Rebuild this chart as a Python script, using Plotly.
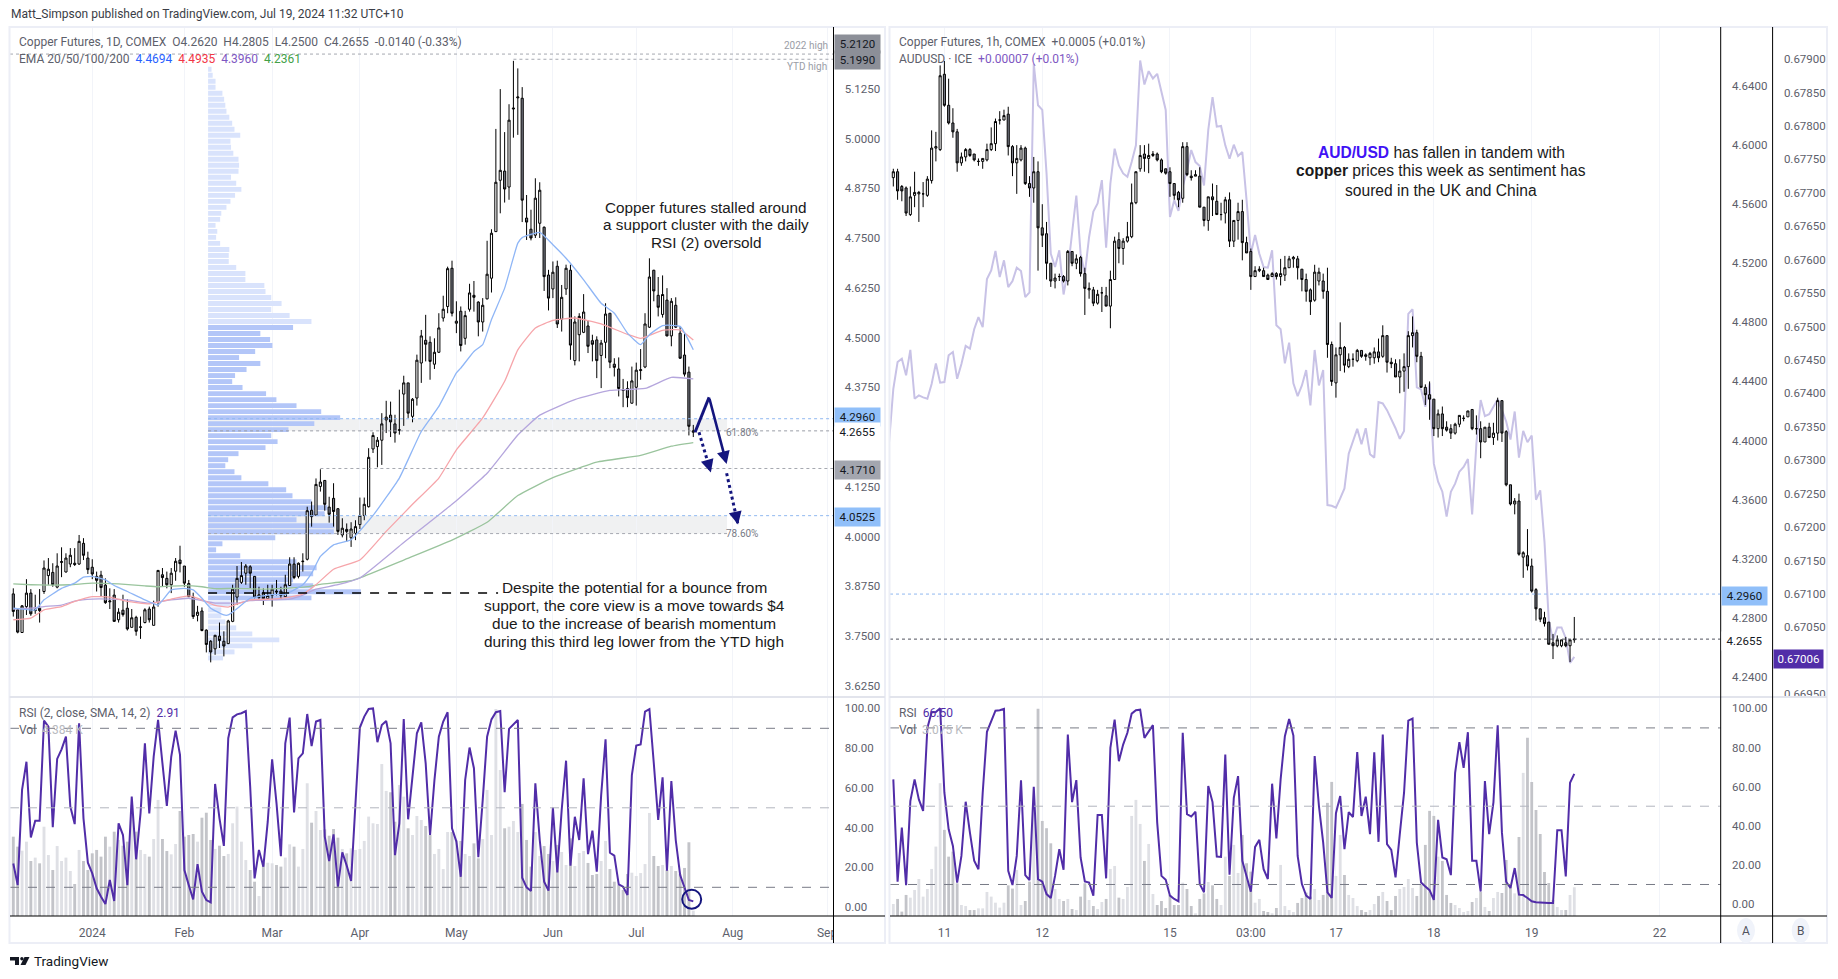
import numpy as np
import plotly.graph_objects as go

W, H = 1838, 979

# Daily copper futures, Dec 2023 - Jul 2024
d_open = [3.856,3.816,3.759,3.824,3.858,3.814,3.820,3.862,3.902,3.910,
    3.873,3.935,3.911,3.931,3.933,3.931,3.983,3.946,3.923,3.900,
    3.903,3.878,3.836,3.853,3.791,3.815,3.820,3.772,3.797,3.772,
    3.784,3.818,3.777,3.835,3.904,3.895,3.879,3.913,3.941,3.926,
    3.882,3.848,3.802,3.813,3.765,3.737,3.718,3.750,3.737,3.731,
    3.787,3.848,3.885,3.908,3.924,3.900,3.847,3.859,3.844,3.852,
    3.863,3.863,3.849,3.877,3.931,3.900,3.937,3.943,4.066,4.054,
    4.126,4.141,4.074,4.096,4.070,4.004,4.018,3.997,4.008,4.030,
    4.053,4.075,4.220,4.226,4.242,4.293,4.305,4.283,4.267,4.358,
    4.386,4.302,4.348,4.436,4.493,4.488,4.433,4.463,4.549,4.578,
    4.674,4.536,4.566,4.498,4.571,4.606,4.589,4.539,4.597,4.649,
    4.766,4.895,4.918,4.878,5.074,5.102,5.101,4.800,4.772,4.757,
    4.787,4.777,4.657,4.622,4.679,4.546,4.622,4.669,4.442,4.507,
    4.513,4.529,4.492,4.494,4.455,4.488,4.561,4.433,4.421,4.369,
    4.372,4.335,4.375,4.417,4.426,4.526,4.669,4.606,4.558,4.594,
    4.504,4.581,4.511,4.456,4.413,4.2620]
d_high = [3.870,3.820,3.828,3.893,3.868,3.854,3.868,3.940,3.946,3.933,
    3.958,3.973,3.958,3.971,3.971,4.004,3.996,3.962,3.943,3.912,
    3.914,3.895,3.870,3.868,3.820,3.854,3.843,3.818,3.801,3.799,
    3.820,3.824,3.839,3.916,3.921,3.912,3.921,3.946,3.977,3.926,
    3.891,3.859,3.826,3.822,3.767,3.740,3.753,3.784,3.762,3.791,
    3.879,3.926,3.936,3.931,3.928,3.901,3.874,3.870,3.879,3.879,
    3.891,3.874,3.904,3.948,3.948,3.935,3.958,4.075,4.088,4.146,
    4.169,4.142,4.100,4.134,4.071,4.046,4.033,4.036,4.041,4.098,
    4.098,4.222,4.262,4.250,4.310,4.341,4.339,4.306,4.369,4.404,
    4.386,4.348,4.457,4.519,4.557,4.503,4.498,4.561,4.605,4.678,
    4.693,4.591,4.578,4.567,4.635,4.642,4.591,4.599,4.743,4.772,
    5.024,5.124,5.016,5.086,5.195,5.176,5.129,4.858,4.821,4.900,
    4.890,4.779,4.670,4.691,4.693,4.632,4.683,4.683,4.553,4.561,
    4.609,4.543,4.507,4.503,4.494,4.586,4.561,4.448,4.450,4.396,
    4.390,4.427,4.437,4.471,4.561,4.699,4.670,4.652,4.656,4.624,
    4.599,4.601,4.528,4.511,4.427,4.2805]
d_low = [3.799,3.757,3.759,3.803,3.801,3.806,3.784,3.856,3.879,3.874,
    3.870,3.898,3.910,3.923,3.926,3.929,3.941,3.906,3.893,3.862,
    3.849,3.831,3.818,3.786,3.784,3.799,3.764,3.772,3.751,3.743,
    3.782,3.784,3.777,3.824,3.874,3.870,3.858,3.889,3.910,3.874,
    3.848,3.793,3.787,3.762,3.709,3.684,3.703,3.720,3.699,3.730,
    3.785,3.828,3.881,3.879,3.870,3.845,3.843,3.828,3.841,3.824,
    3.852,3.843,3.848,3.877,3.893,3.895,3.912,3.940,4.025,4.054,
    4.113,4.065,4.035,4.025,4.004,3.998,3.987,3.974,3.991,4.019,
    4.041,4.073,4.210,4.174,4.180,4.260,4.250,4.236,4.256,4.278,
    4.298,4.287,4.329,4.386,4.440,4.394,4.421,4.461,4.540,4.561,
    4.553,4.511,4.465,4.482,4.565,4.565,4.503,4.515,4.596,4.613,
    4.765,4.812,4.839,4.846,5.002,5.009,4.790,4.745,4.744,4.750,
    4.750,4.617,4.568,4.599,4.524,4.515,4.607,4.444,4.430,4.440,
    4.511,4.461,4.440,4.398,4.373,4.448,4.423,4.402,4.352,4.325,
    4.325,4.334,4.329,4.394,4.423,4.524,4.591,4.553,4.550,4.503,
    4.478,4.524,4.446,4.402,4.254,4.2500]
d_close = [3.812,3.760,3.826,3.858,3.806,3.816,3.814,3.921,3.918,3.879,
    3.926,3.937,3.946,3.953,3.930,3.988,3.953,3.917,3.906,3.890,
    3.872,3.834,3.838,3.787,3.810,3.804,3.768,3.796,3.762,3.773,
    3.816,3.791,3.823,3.915,3.897,3.879,3.908,3.938,3.932,3.883,
    3.849,3.799,3.810,3.764,3.729,3.710,3.752,3.739,3.725,3.788,
    3.868,3.895,3.902,3.926,3.908,3.848,3.854,3.844,3.852,3.868,
    3.861,3.852,3.879,3.931,3.897,3.933,3.938,4.065,4.050,4.131,
    4.137,4.081,4.056,4.063,4.013,4.021,4.013,4.019,4.025,4.053,
    4.081,4.199,4.254,4.242,4.283,4.300,4.288,4.260,4.268,4.386,
    4.310,4.345,4.443,4.504,4.483,4.440,4.463,4.524,4.571,4.673,
    4.561,4.541,4.480,4.555,4.612,4.601,4.539,4.581,4.659,4.762,
    4.890,4.920,4.873,5.046,5.076,5.104,4.845,4.790,4.750,4.850,
    4.870,4.653,4.599,4.664,4.534,4.601,4.674,4.481,4.539,4.553,
    4.564,4.478,4.483,4.442,4.486,4.559,4.438,4.425,4.372,4.367,
    4.349,4.391,4.418,4.419,4.534,4.652,4.617,4.576,4.608,4.504,
    4.591,4.526,4.448,4.408,4.277,4.2655]

d_rsi = [22.0,11.1,59.0,73.2,35.1,43.5,43.5,93.9,90.8,40.2,
    74.6,79.4,85.8,50.6,41.8,92.5,44.7,22.4,17.0,9.5,
    5.3,1.6,13.7,3.1,42.2,36.3,11.1,55.6,24.1,47.2,
    82.4,47.2,75.7,94.2,72.4,50.9,75.7,88.8,76.6,18.7,
    11.1,3.9,21.7,7.8,3.6,2.4,62.0,44.7,30.8,85.0,
    95.5,97.0,97.6,98.7,60.6,14.5,28.8,20.4,43.0,74.4,
    52.2,25.7,82.4,95.4,47.7,74.9,77.4,97.2,81.1,93.4,
    94.2,35.5,23.2,36.6,10.3,27.6,20.9,13.2,52.2,90.4,
    95.9,99.7,100.0,83.0,91.7,93.7,82.4,26.2,42.2,94.7,
    44.2,65.7,87.5,93.0,72.4,36.3,64.0,85.8,93.4,98.1,
    39.7,33.0,15.3,64.0,80.3,69.9,25.1,53.9,85.8,94.5,
    98.1,98.7,57.8,89.7,92.2,94.2,14.8,10.0,8.1,62.3,
    33.8,12.8,8.3,50.1,17.5,48.9,73.7,20.9,45.5,33.8,
    64.8,26.7,38.5,17.9,56.4,84.5,27.4,25.9,11.5,10.3,
    6.1,66.5,81.3,81.9,98.4,99.6,72.4,43.9,65.3,18.4,
    63.5,33.8,16.2,9.5,3.6,2.91]
d_vol_k = [65.2,57.0,53.7,61.1,45.2,48.0,43.3,73.4,50.1,37.8,
    57.5,45.2,48.0,37.0,26.3,54.3,45.2,37.8,51.5,54.3,
    48.8,65.2,57.0,69.3,62.5,57.8,61.1,91.2,69.3,54.3,
    51.0,48.8,63.3,95.4,63.3,53.4,50.7,59.2,86.3,65.2,
    66.6,67.4,61.1,80.8,84.9,62.5,55.1,57.8,49.3,51.0,
    76.2,89.9,61.1,46.0,37.8,28.2,16.4,44.1,43.8,43.3,
    41.9,40.6,48.0,58.9,57.0,40.6,55.1,109.1,76.7,86.3,
    70.7,71.2,66.0,71.5,64.4,55.1,51.5,55.6,54.3,55.1,
    61.7,81.7,76.2,75.6,124.9,102.8,101.7,77.5,107.7,98.1,
    72.1,66.6,82.2,78.9,74.0,66.6,51.0,55.1,38.6,69.0,
    69.0,62.5,61.7,51.0,49.3,59.7,47.4,63.3,103.6,66.6,
    170.2,120.0,72.1,73.4,78.1,69.0,92.1,62.5,40.6,69.0,
    49.3,57.5,51.0,45.2,58.4,52.6,41.9,63.8,41.1,51.8,
    53.4,43.6,33.7,34.5,45.2,61.7,38.6,28.2,25.5,21.4,
    34.5,35.6,32.9,35.3,42.7,84.7,49.3,41.1,41.9,37.8,
    41.1,37.0,34.5,39.5,60.6,4.384]

ema20_i = [0,5,7,11,14,16,18,21,23,26,30,33,36,39,41,43,45,48,49,52,54,59,62,66,68,70,73,77,82,88,93,97,101,102,105,107,109,112,115,116,120,123,126,130,134,137,140,143,145,148,152,155]
ema20_v = [3.820,3.816,3.841,3.870,3.883,3.898,3.900,3.891,3.877,3.862,3.841,3.828,3.866,3.870,3.866,3.845,3.820,3.803,3.803,3.828,3.845,3.854,3.855,3.879,3.908,3.950,3.979,3.992,4.053,4.147,4.264,4.327,4.411,4.423,4.465,4.482,4.545,4.624,4.737,4.751,4.764,4.733,4.699,4.645,4.586,4.561,4.511,4.482,4.507,4.530,4.528,4.4694]
ema50_i = [0,4,7,11,14,18,22,26,31,36,40,43,46,49,54,59,63,66,69,73,79,85,91,97,101,107,112,115,119,123,128,134,140,143,148,152,155]
ema50_v = [3.791,3.795,3.816,3.824,3.837,3.849,3.848,3.837,3.831,3.843,3.851,3.841,3.827,3.823,3.841,3.843,3.848,3.856,3.879,3.918,3.941,4.013,4.081,4.147,4.218,4.298,4.390,4.469,4.524,4.543,4.549,4.534,4.508,4.498,4.518,4.519,4.4935]
ema100_i = [0,4,7,11,14,18,22,26,31,36,40,43,46,51,54,59,63,66,69,74,79,89,100,108,115,120,128,136,144,150,155]
ema100_v = [3.818,3.820,3.824,3.828,3.838,3.843,3.843,3.841,3.833,3.841,3.845,3.839,3.833,3.833,3.839,3.841,3.843,3.853,3.868,3.879,3.896,3.985,4.081,4.159,4.255,4.305,4.344,4.367,4.372,4.400,4.3960]
ema200_i = [0,4,8,13,18,24,30,33,39,43,46,51,56,62,67,70,77,79,89,100,108,115,123,133,143,150,155]
ema200_v = [3.881,3.879,3.878,3.879,3.883,3.881,3.876,3.874,3.877,3.874,3.869,3.870,3.868,3.870,3.874,3.880,3.889,3.896,3.941,3.991,4.036,4.103,4.148,4.187,4.204,4.227,4.2361]

# Visible range volume profile on the daily pane
vp_vol = [6,8,13,13,25,28,30,32,37,42,46,56,39,40,44,53,54,53,40,49,
    58,47,39,32,23,21,13,16,14,21,37,36,36,49,65,65,98,100,110,128,
    110,142,180,148,91,108,112,82,54,91,67,47,42,60,101,119,154,197,230,185,
    140,110,121,100,53,35,30,46,58,105,136,147,180,208,203,154,220,219,117,25,
    14,56,154,189,183,148,183,266,180,38,23,23,30,49,77,124,77,46,26]
vp_top = 5.174
vp_step = 0.01509
vp_area = (43, 88)

d_tick_i = [18,39,59,79,101,123,142,164,185.5]
d_tick_t = ["2024","Feb","Mar","Apr","May","Jun","Jul","Aug","Sep"]
d_price_ticks = [5.125,5.0,4.875,4.75,4.625,4.5,4.375,4.125,4.0,3.875,3.75,3.625]

# Hourly copper futures
h_open = [4.578,4.582,4.572,4.571,4.553,4.566,4.567,4.567,4.566,4.576,
    4.598,4.597,4.648,4.627,4.615,4.609,4.588,4.592,4.597,4.594,
    4.589,4.589,4.590,4.597,4.601,4.617,4.617,4.621,4.599,4.588,
    4.590,4.598,4.574,4.571,4.582,4.544,4.540,4.520,4.508,4.511,
    4.511,4.508,4.528,4.520,4.524,4.513,4.502,4.502,4.493,4.500,
    4.498,4.491,4.509,4.536,4.530,4.535,4.538,4.561,4.584,4.594,
    4.591,4.593,4.594,4.590,4.584,4.582,4.574,4.568,4.564,4.599,
    4.579,4.579,4.579,4.558,4.549,4.565,4.562,4.553,4.554,4.563,
    4.535,4.549,4.555,4.534,4.528,4.511,4.515,4.515,4.512,4.511,
    4.513,4.511,4.512,4.517,4.523,4.523,4.516,4.509,4.502,4.495,
    4.508,4.508,4.501,4.465,4.439,4.458,4.463,4.450,4.455,4.454,
    4.461,4.458,4.456,4.456,4.460,4.457,4.471,4.453,4.452,4.443,
    4.447,4.450,4.471,4.473,4.457,4.436,4.431,4.428,4.408,4.418,
    4.409,4.408,4.405,4.411,4.415,4.416,4.421,4.408,4.408,4.399,
    4.409,4.402,4.405,4.427,4.406,4.370,4.357,4.359,4.321,4.322,
    4.315,4.299,4.286,4.280,4.277,4.263,4.261,4.261,4.263,4.261,
    4.265]
h_high = [4.584,4.584,4.573,4.572,4.572,4.582,4.569,4.575,4.579,4.610,
    4.609,4.654,4.657,4.645,4.625,4.611,4.595,4.598,4.598,4.594,
    4.591,4.591,4.601,4.612,4.618,4.623,4.624,4.626,4.600,4.600,
    4.600,4.599,4.579,4.592,4.589,4.560,4.548,4.520,4.513,4.513,
    4.512,4.529,4.528,4.526,4.525,4.517,4.507,4.504,4.502,4.504,
    4.504,4.515,4.538,4.541,4.537,4.548,4.574,4.582,4.600,4.600,
    4.601,4.596,4.595,4.591,4.584,4.585,4.574,4.569,4.602,4.602,
    4.583,4.583,4.585,4.558,4.565,4.574,4.573,4.561,4.565,4.568,
    4.549,4.561,4.563,4.538,4.530,4.518,4.518,4.517,4.513,4.514,
    4.514,4.523,4.525,4.525,4.525,4.525,4.516,4.513,4.503,4.519,
    4.517,4.513,4.517,4.467,4.463,4.480,4.464,4.459,4.459,4.462,
    4.461,4.459,4.460,4.463,4.469,4.478,4.471,4.456,4.455,4.455,
    4.459,4.474,4.484,4.475,4.460,4.438,4.440,4.428,4.421,4.423,
    4.413,4.411,4.412,4.417,4.417,4.420,4.421,4.417,4.413,4.409,
    4.412,4.412,4.429,4.427,4.407,4.370,4.361,4.364,4.325,4.340,
    4.320,4.300,4.286,4.284,4.277,4.269,4.268,4.265,4.267,4.265,
    4.2805]
h_low = [4.572,4.563,4.562,4.552,4.552,4.558,4.548,4.558,4.565,4.574,
    4.589,4.596,4.626,4.614,4.605,4.582,4.586,4.589,4.592,4.589,
    4.586,4.584,4.589,4.596,4.596,4.614,4.617,4.593,4.579,4.567,
    4.589,4.573,4.565,4.561,4.515,4.531,4.509,4.504,4.503,4.508,
    4.507,4.505,4.518,4.516,4.511,4.485,4.496,4.491,4.492,4.487,
    4.491,4.476,4.509,4.520,4.519,4.534,4.537,4.560,4.582,4.582,
    4.581,4.592,4.589,4.581,4.580,4.565,4.563,4.558,4.561,4.579,
    4.576,4.579,4.558,4.545,4.542,4.552,4.553,4.549,4.547,4.531,
    4.531,4.536,4.522,4.527,4.502,4.511,4.514,4.511,4.509,4.511,
    4.509,4.505,4.508,4.517,4.517,4.509,4.501,4.494,4.485,4.494,
    4.505,4.496,4.456,4.437,4.429,4.447,4.446,4.449,4.450,4.453,
    4.456,4.454,4.451,4.452,4.453,4.456,4.446,4.449,4.443,4.432,
    4.433,4.435,4.463,4.453,4.436,4.424,4.414,4.403,4.402,4.403,
    4.406,4.401,4.404,4.409,4.413,4.416,4.407,4.404,4.388,4.399,
    4.402,4.397,4.400,4.399,4.369,4.356,4.350,4.322,4.307,4.312,
    4.297,4.278,4.277,4.274,4.262,4.252,4.260,4.260,4.260,4.250,
    4.263]
h_close = [4.582,4.569,4.569,4.554,4.565,4.568,4.568,4.567,4.577,4.598,
    4.599,4.647,4.627,4.615,4.609,4.588,4.592,4.597,4.593,4.590,
    4.589,4.591,4.597,4.601,4.616,4.617,4.620,4.599,4.588,4.591,
    4.598,4.574,4.571,4.582,4.544,4.539,4.520,4.508,4.510,4.511,
    4.508,4.528,4.520,4.523,4.513,4.503,4.503,4.493,4.499,4.500,
    4.491,4.509,4.535,4.530,4.535,4.538,4.561,4.582,4.593,4.591,
    4.593,4.594,4.590,4.582,4.581,4.574,4.566,4.563,4.599,4.580,
    4.578,4.580,4.558,4.549,4.565,4.563,4.553,4.553,4.563,4.535,
    4.549,4.555,4.534,4.527,4.511,4.515,4.516,4.511,4.509,4.513,
    4.511,4.513,4.517,4.523,4.524,4.517,4.509,4.501,4.494,4.514,
    4.514,4.501,4.465,4.440,4.458,4.463,4.451,4.455,4.455,4.461,
    4.457,4.457,4.459,4.460,4.456,4.471,4.453,4.452,4.443,4.447,
    4.450,4.471,4.473,4.457,4.436,4.431,4.428,4.408,4.418,4.408,
    4.407,4.405,4.411,4.417,4.415,4.420,4.408,4.408,4.399,4.409,
    4.402,4.405,4.427,4.405,4.370,4.357,4.359,4.323,4.324,4.315,
    4.298,4.286,4.279,4.276,4.262,4.261,4.265,4.265,4.261,4.265,
    4.2655]

h_rsi = [63.7,11.4,39.1,9.7,52.6,63.7,53.5,47.6,90.0,98.0,
    98.1,100.0,56.9,38.2,29.7,11.0,24.6,52.3,36.5,22.1,
    17.8,56.9,88.0,93.4,98.8,99.0,99.7,17.0,9.7,24.6,
    63.2,14.8,12.2,59.9,12.7,11.4,5.1,3.1,14.4,28.0,
    17.5,86.6,52.1,63.3,23.8,11.6,11.0,4.3,45.5,45.5,
    13.1,79.8,94.2,73.0,81.5,87.5,97.3,99.0,99.3,84.9,
    88.3,91.4,41.6,14.4,12.4,4.3,2.6,1.4,87.5,45.9,
    44.7,47.2,10.2,6.0,60.3,52.1,24.3,24.1,76.4,15.0,
    54.3,65.4,22.1,14.4,6.3,29.2,32.8,17.8,12.8,61.5,
    33.5,63.7,85.8,94.6,86.1,24.6,10.2,4.3,2.6,75.6,
    50.1,31.4,6.0,3.1,46.4,55.2,28.0,47.0,44.5,77.6,
    45.0,54.9,35.7,77.6,31.8,86.6,30.6,27.7,13.6,35.7,
    56.9,93.7,94.8,31.4,11.0,9.0,7.1,2.1,43.0,23.8,
    22.9,14.8,67.1,82.7,69.6,87.8,22.1,22.1,6.4,62.8,
    35.7,51.9,91.4,36.5,11.4,8.2,18.4,4.8,4.6,3.1,
    1.4,0.9,0.7,0.7,0.5,0.5,37.7,37.7,14.1,62.0,
    66.5]
h_vol_k = [1.29,1.83,0.47,2.26,1.97,2.79,3.97,2.08,2.90,5.05,
    7.45,14.25,9.24,6.37,6.91,3.51,1.18,1.07,0.64,0.64,
    0.82,0.82,2.58,2.08,1.43,0.90,1.43,3.29,2.94,4.94,
    1.18,1.61,3.69,11.74,22.23,10.20,9.42,7.80,2.90,1.83,
    1.61,1.83,0.75,0.64,2.08,3.51,1.72,1.07,0.75,1.50,
    1.83,5.05,5.37,1.97,1.83,3.11,10.74,12.46,9.88,5.91,
    7.73,2.36,1.18,1.61,0.86,2.26,1.18,1.18,3.58,2.90,
    1.07,0.29,1.83,2.43,3.65,3.29,1.83,1.18,6.37,4.30,
    7.63,4.62,8.70,5.66,4.76,1.43,1.83,0.54,0.43,0.29,
    0.86,5.48,1.07,0.64,0.43,1.40,1.93,2.51,2.08,2.90,
    1.72,2.26,12.14,14.39,4.30,8.70,4.40,2.26,1.93,1.07,
    0.64,0.43,0.64,1.29,2.15,2.58,1.61,0.64,2.15,2.90,
    3.11,3.97,3.01,2.15,3.33,7.63,11.28,10.74,6.37,5.91,
    2.26,1.40,1.18,0.86,0.43,0.54,1.50,1.93,2.58,0.97,
    0.54,1.93,2.58,2.47,6.01,3.33,2.43,8.48,15.36,19.12,
    14.39,11.38,8.81,4.73,3.54,1.72,0.97,0.64,0.64,2.26,
    3.075]
aud_usd = [0.67327,
    0.67407,0.67447,0.67452,0.67427,0.67465,0.67392,0.67397,0.67394,0.67392,0.67414,
    0.67445,0.67416,0.67417,0.67457,0.67462,0.67422,0.67444,0.67471,0.67467,0.67496,
    0.67514,0.67499,0.67571,0.67584,0.67613,0.67574,0.67599,0.67559,0.67568,0.67588,
    0.67583,0.67544,0.67551,0.67893,0.67831,0.67824,0.67729,0.67609,0.67589,0.67614,
    0.67548,0.67584,0.67639,0.67696,0.67609,0.67579,0.67634,0.67672,0.67684,0.67719,
    0.67618,0.67714,0.67766,0.67741,0.67729,0.67724,0.67746,0.67771,0.67898,0.67862,
    0.67882,0.67871,0.67878,0.67851,0.67824,0.67664,0.67689,0.67673,0.67709,0.67734,
    0.67764,0.67746,0.67740,0.67711,0.67794,0.67843,0.67799,0.67800,0.67771,0.67751,
    0.67772,0.67755,0.67761,0.67689,0.67609,0.67637,0.67609,0.67589,0.67588,0.67614,
    0.67502,0.67496,0.67445,0.67476,0.67415,0.67396,0.67412,0.67435,0.67382,0.67465,
    0.67412,0.67435,0.67233,0.67232,0.67229,0.67243,0.67258,0.67310,0.67330,0.67347,
    0.67324,0.67348,0.67309,0.67304,0.67387,0.67385,0.67375,0.67362,0.67348,0.67332,
    0.67344,0.67519,0.67526,0.67409,0.67406,0.67380,0.67415,0.67295,0.67268,0.67253,
    0.67216,0.67253,0.67265,0.67283,0.67290,0.67302,0.67219,0.67325,0.67390,0.67366,
    0.67369,0.67380,0.67391,0.67375,0.67358,0.67331,0.67373,0.67304,0.67344,0.67327,
    0.67337,0.67241,0.67255,0.67178,0.67061,0.67031,0.67050,0.67050,0.67034,0.66997,
    0.67006]

h_tick_i = [12,35,65,84,104,127,150,180]
h_tick_t = ["11","12","15","03:00","17","18","19","22"]
h_price_ticks = [4.64,4.60,4.56,4.52,4.48,4.44,4.40,4.36,4.32,4.28,4.24]
aud_ticks = [0.679,0.6785,0.678,0.6775,0.677,0.6765,0.676,0.6755,0.675,0.6745,0.674,0.6735,0.673,0.6725,0.672,0.6715,0.671,0.6705,0.6695]
rsi_ticks = [100,80,60,40,20,0]
rsi_levels = [90,50,10]

assert len({len(d_open),len(d_high),len(d_low),len(d_close),len(d_rsi),len(d_vol_k)}) == 1
assert len({len(h_open),len(h_high),len(h_low),len(h_close),len(h_rsi),len(h_vol_k)}) == 1

FONT = "Roboto, sans-serif"
ARIAL = "Liberation Sans, Arial, sans-serif"
TEXT = "#5d606b"
LABEL = "#50535e"
NAVY = "#14157e"
VIOLET = "#512da8"
GRID = "#f2f4f9"
FRAME = "#eceef6"

# pane edges in page pixels
L_AXIS = 833.5
R_AXIS = 1720.7
AUD_AXIS = 1772.6
R_EDGE = 1827
d_xmax = 186.96
h_xmax = 194.4

def fx(px):
    return px / W

def fy(px):
    return 1 - px / H

d_x = np.arange(len(d_close))
h_x = np.arange(len(h_close))
vp_left = 44.4

def vol_colors(opens, closes):
    return ["#dfe0e5" if c >= o else "#c3c4c9" for o, c in zip(opens, closes)]

def candles(x, o, h, l, c, xaxis, yaxis):
    return go.Candlestick(x=x, open=o, high=h, low=l, close=c, xaxis=xaxis, yaxis=yaxis,
        increasing=dict(line=dict(color="#000000", width=1), fillcolor="#ffffff"),
        decreasing=dict(line=dict(color="#000000", width=1), fillcolor="#787b86"),
        whiskerwidth=0, showlegend=False, hoverinfo="skip")

fig = go.Figure()

# Left pane
vp_price = vp_top - vp_step * np.arange(len(vp_vol))
vp_col = ["#b3c6f8" if vp_area[0] <= k <= vp_area[1] else "#d9e3fc" for k in range(len(vp_vol))]
fig.add_trace(go.Bar(y=vp_price, x=np.array(vp_vol) * 0.1309, base=vp_left, orientation="h",
    width=vp_step * 0.82, marker=dict(color=vp_col, line=dict(width=0)), xaxis="x", yaxis="y"))
for xi, vals, col in [(ema200_i, ema200_v, "#9ac49d"), (ema100_i, ema100_v, "#b5a6dd"),
                      (ema50_i, ema50_v, "#f6a5aa"), (ema20_i, ema20_v, "#8fb6f6")]:
    fig.add_trace(go.Scatter(x=xi, y=vals, mode="lines", line=dict(color=col, width=1.3, shape="spline", smoothing=0.4),
        xaxis="x", yaxis="y"))
fig.add_trace(candles(d_x, d_open, d_high, d_low, d_close, "x", "y"))
fig.add_trace(go.Bar(x=d_x, y=d_vol_k, width=0.66, marker=dict(color=vol_colors(d_open, d_close), line=dict(width=0)),
    xaxis="x", yaxis="y2"))
fig.add_trace(go.Scatter(x=d_x, y=d_rsi, mode="lines", line=dict(color=VIOLET, width=2), xaxis="x", yaxis="y3"))

# Right pane
fig.add_trace(go.Scatter(x=np.arange(-1, len(h_close)), y=aud_usd, mode="lines",
    line=dict(color="#c8c2e6", width=2), xaxis="x2", yaxis="y4"))
fig.add_trace(candles(h_x, h_open, h_high, h_low, h_close, "x2", "y5"))
fig.add_trace(go.Bar(x=h_x, y=h_vol_k, width=0.66, marker=dict(color=vol_colors(h_open, h_close), line=dict(width=0)),
    xaxis="x2", yaxis="y6"))
fig.add_trace(go.Scatter(x=h_x, y=h_rsi, mode="lines", line=dict(color=VIOLET, width=2), xaxis="x2", yaxis="y7"))

tick_font = dict(family=FONT, size=11.5, color=TEXT)

def price_axis(ticks, fmt, rng, dom, **kw):
    return dict(domain=[fy(dom[1]), fy(dom[0])], range=rng, side="right", tickvals=ticks,
        ticktext=[fmt.format(t) for t in ticks], showgrid=False, zeroline=False, showline=False,
        ticks="outside", ticklen=8, tickcolor="rgba(0,0,0,0)", tickfont=tick_font, **kw)

fig.update_layout(
    width=W, height=H, autosize=False, margin=dict(l=0, r=0, t=0, b=0, pad=0, autoexpand=False),
    paper_bgcolor="#ffffff", plot_bgcolor="#ffffff", showlegend=False, hovermode=False,
    barmode="overlay", font=dict(family=FONT, color=TEXT),
    xaxis=dict(domain=[fx(10), fx(L_AXIS)], range=[-0.75, d_xmax], anchor="y2", tickvals=d_tick_i, ticktext=d_tick_t,
        showgrid=True, gridcolor=GRID, gridwidth=1, zeroline=False, tickfont=dict(family=FONT, size=12, color=TEXT),
        ticks="outside", ticklen=6, tickcolor="rgba(0,0,0,0)", rangeslider=dict(visible=False)),
    xaxis2=dict(domain=[fx(890), fx(R_AXIS)], range=[-0.78, h_xmax], anchor="y6", tickvals=h_tick_i, ticktext=h_tick_t,
        showgrid=True, gridcolor=GRID, gridwidth=1, zeroline=False, tickfont=dict(family=FONT, size=12, color=TEXT),
        ticks="outside", ticklen=6, tickcolor="rgba(0,0,0,0)", rangeslider=dict(visible=False)),
    yaxis=price_axis(d_price_ticks, "{:.4f}", [3.597, 5.280], (27, 697), anchor="x"),
    yaxis2=dict(domain=[fy(916), fy(697)], range=[0, 180], anchor="x", showticklabels=False, showgrid=False, zeroline=False),
    yaxis3=price_axis(rsi_ticks, "{:.2f}", [-4.44, 105.75], (697, 916), anchor="x", overlaying="y2"),
    yaxis4=price_axis(aud_ticks, "{:.5f}", [0.66946, 0.67948], (27, 697), anchor="free", position=fx(AUD_AXIS)),
    yaxis5=price_axis(h_price_ticks, "{:.4f}", [4.2263, 4.680], (27, 697), anchor="x2", overlaying="y4"),
    yaxis6=dict(domain=[fy(916), fy(697)], range=[0, 23.5], anchor="x2", showticklabels=False, showgrid=False, zeroline=False),
    yaxis7=price_axis(rsi_ticks, "{:.2f}", [-6.1, 105.8], (697, 916), anchor="x2", overlaying="y6"),
)

def px_line(x0, y0, x1, y1, color, width=1):
    fig.add_shape(type="line", xref="paper", yref="paper", x0=fx(x0), y0=fy(y0), x1=fx(x1), y1=fy(y1),
        line=dict(color=color, width=width), layer="above")

def level(y, x0, x1, color, dash="dot", width=1, xref="x", yref="y"):
    fig.add_shape(type="line", xref=xref, yref=yref, x0=x0, x1=x1, y0=y, y1=y,
        line=dict(color=color, width=width, dash=dash), layer="above")

# support bands and levels on the daily chart
for lo, hi, right in [(4.2655, 4.2960, 162.7), (4.0075, 4.0525, 162.7)]:
    fig.add_shape(type="rect", xref="x", yref="y", x0=vp_left, x1=right, y0=lo, y1=hi,
        fillcolor="#f0f1f2", line=dict(width=0), layer="below")
level(5.2120, -0.75, d_xmax, "#a5a8b0")
level(5.1990, 114, d_xmax, "#a5a8b0")
level(4.2960, vp_left, d_xmax, "#90b8f0")
level(4.2655, vp_left, d_xmax, "#9a9da6")
level(4.1710, 70, d_xmax, "#a5a8b0")
level(4.0525, vp_left, d_xmax, "#90b8f0")
level(4.0075, vp_left, 162.7, "#a5a8b0")
level(3.858, vp_left, 110.5, "#000000", dash="dash", width=1.5)
level(4.2960, -0.78, h_xmax, "#90b8f0", xref="x2", yref="y5")
level(4.2655, -0.78, h_xmax, "#50535e", xref="x2", yref="y5")

for lv in rsi_levels:
    col = "#b2b5be" if lv == 50 else "#787b86"
    level(lv, -0.75, d_xmax, col, dash="dash", yref="y3")
    level(lv, -0.78, h_xmax, col, dash="dash", xref="x2", yref="y7")

# frames and axis rules
for x0, x1 in [(9.5, 885), (889.5, R_EDGE)]:
    fig.add_shape(type="rect", xref="paper", yref="paper", x0=fx(x0), x1=fx(x1), y0=fy(943), y1=fy(27),
        line=dict(color=FRAME, width=2), layer="above")
    px_line(x0, 697, x1, 697, "#e2e4ec", 2)
fig.add_shape(type="rect", xref="paper", yref="paper", x0=fx(834), x1=fx(884), y0=fy(942), y1=fy(917),
    fillcolor="#ffffff", line=dict(width=0), layer="above")
px_line(10, 916, 885, 916, "#000000", 1.2)
px_line(890, 916, R_EDGE, 916, "#000000", 1.2)
px_line(L_AXIS, 27, L_AXIS, 943, "#000000", 1)
px_line(R_AXIS, 27, R_AXIS, 943, "#000000", 1)
px_line(AUD_AXIS, 27, AUD_AXIS, 943, "#000000", 1)

# trade path drawn on the daily chart
def arrow(x0, y0, x1, y1):
    fig.add_annotation(x=x1, y=y1, ax=x0, ay=y0, xref="x", yref="y", axref="x", ayref="y", text="",
        showarrow=True, arrowhead=2, arrowsize=1, arrowwidth=2.6, arrowcolor=NAVY)

fig.add_shape(type="line", xref="x", yref="y", x0=155.4, y0=4.262, x1=158.6, y1=4.350, line=dict(color=NAVY, width=3), layer="above")
arrow(158.6, 4.350, 162.6, 4.182)
for x0, y0, x1, y1 in [(156.3, 4.262, 159.0, 4.161), (162.6, 4.159, 165.2, 4.030)]:
    fig.add_shape(type="line", xref="x", yref="y", x0=x0, y0=y0, x1=x1, y1=y1, line=dict(color=NAVY, width=3, dash="dot"), layer="above")
    arrow(x1 - (x1 - x0) * 0.2, y1 - (y1 - y0) * 0.2, x1, y1)
fig.add_shape(type="circle", xref="paper", yref="paper", x0=fx(682.2), x1=fx(701.2), y0=fy(908.8), y1=fy(889.8),
    line=dict(color=NAVY, width=2), layer="above")

def note(text, x, y, size=12, color=TEXT, anchor="left", family=FONT):
    fig.add_annotation(text=text, xref="paper", yref="paper", x=fx(x), y=fy(y), xanchor=anchor, yanchor="middle",
        showarrow=False, font=dict(family=family, size=size, color=color))

def span(text, color):
    return f"<span style='color:{color}'>{text}</span>"

note("Matt_Simpson published on TradingView.com, Jul 19, 2024 11:32 UTC+10", 9, 14.5, size=12, color="#3a3d46")
note("Copper Futures, 1D, COMEX&#160;&#160;O4.2620&#160;&#160;H4.2805&#160;&#160;L4.2500&#160;&#160;C4.2655&#160;&#160;-0.0140 (-0.33%)", 17, 42)
note("EMA 20/50/100/200&#160;&#160;" + span("4.4694", "#2962ff") + "&#160;&#160;" + span("4.4935", "#f23645") + "&#160;&#160;"
     + span("4.3960", "#7e57c2") + "&#160;&#160;" + span("4.2361", "#43a047"), 17, 59)
note("RSI (2, close, SMA, 14, 2)&#160;&#160;" + span("2.91", VIOLET), 17, 713)
note("Vol&#160;&#160;" + span("4.384 K", "#b8bac0"), 17, 730)
note("Copper Futures, 1h, COMEX&#160;&#160;+0.0005 (+0.01%)", 897, 42)
note("AUDUSD · ICE&#160;&#160;" + span("+0.00007 (+0.01%)", "#7e57c2"), 897, 59)
note("RSI&#160;&#160;" + span("66.50", VIOLET), 897, 713)
note("Vol&#160;&#160;" + span("3.075 K", "#b8bac0"), 897, 730)

note("2022 high", 806, 46, size=10, color="#9a9da6", anchor="center")
note("YTD high", 807, 67, size=10, color="#9a9da6", anchor="center")
note("61.80%", 742, 432.5, size=10, color="#787b86", anchor="center")
note("78.60%", 742, 533.5, size=10, color="#787b86", anchor="center")

for line, y in [("Copper futures stalled around", 207), ("a support cluster with the daily", 225), ("RSI (2) oversold", 242.5)]:
    note(line, 706, y, size=15.3, color="#1a1a1a", anchor="center", family=ARIAL)
for line, y in [("Despite the potential for a bounce from", 587.5), ("support, the core view is a move towards $4", 605),
                ("due to the increase of bearish momentum", 623), ("during this third leg lower from the YTD high", 641)]:
    note(line, 634, y, size=15.4, color="#1a1a1a", anchor="center", family=ARIAL)
for line, y in [("<b>" + span("AUD/USD", "#3f12f5") + "</b> has fallen in tandem with", 152),
                ("<b>copper</b> prices this week as sentiment has", 171), ("soured in the UK and China", 190)]:
    note(line, 1441, y, size=15.6, color="#1a1a1a", anchor="center", family=ARIAL)

def tag(text, x, y, fill, color, w):
    fig.add_annotation(text=text, xref="paper", yref="paper", x=fx(x), y=fy(y), xanchor="left", yanchor="middle", width=w, height=15,
        showarrow=False, align="center", bgcolor=fill, borderpad=1.5, font=dict(family=FONT, size=11.5, color=color))

tag("5.2120", 834, 43.5, "#8c8f98", "#131722", 42)
tag("5.1990", 834, 60, "#8c8f98", "#131722", 42)
tag("4.2960", 834, 417, "#90bff9", "#131722", 42)
tag("4.2655", 834, 432, "#ffffff", "#131722", 42)
tag("4.1710", 834, 470, "#a3a6af", "#131722", 42)
tag("4.0525", 834, 517, "#90bff9", "#131722", 42)
tag("4.2960", R_AXIS + 0.5, 596, "#90bff9", "#131722", 42)
tag("4.2655", R_AXIS + 0.5, 641, "#ffffff", "#131722", 42)
tag("0.67006", AUD_AXIS + 0.5, 658.5, "#512da8", "#ffffff", 46)

for label, cx in [("A", 1746), ("B", 1800.7)]:
    fig.add_shape(type="circle", xref="paper", yref="paper", x0=fx(cx - 9), x1=fx(cx + 9), y0=fy(943), y1=fy(918),
        fillcolor="#f0f3fa", line=dict(width=0), layer="above")
    note(label, cx, 931, size=12, color=LABEL, anchor="center")

# TradingView logo
def poly(points):
    path = "M " + " L ".join(f"{fx(a):.5f},{fy(b):.5f}" for a, b in points) + " Z"
    fig.add_shape(type="path", xref="paper", yref="paper", path=path, fillcolor="#131722", line=dict(width=0), layer="above")

poly([(10, 957), (19, 957), (19, 965), (15, 965), (15, 960.5), (10, 960.5)])
poly([(24.5, 957), (29.5, 957), (25.5, 965), (20.5, 965)])
fig.add_shape(type="circle", xref="paper", yref="paper", x0=fx(20.2), x1=fx(23.6), y0=fy(960.5), y1=fy(957),
    fillcolor="#131722", line=dict(width=0), layer="above")
note("TradingView", 32, 961, size=13.5, color="#131722")

fig.write_html("out.html", config=dict(displayModeBar=False),
    post_script="document.body.style.margin='0';document.body.style.overflow='hidden';")
